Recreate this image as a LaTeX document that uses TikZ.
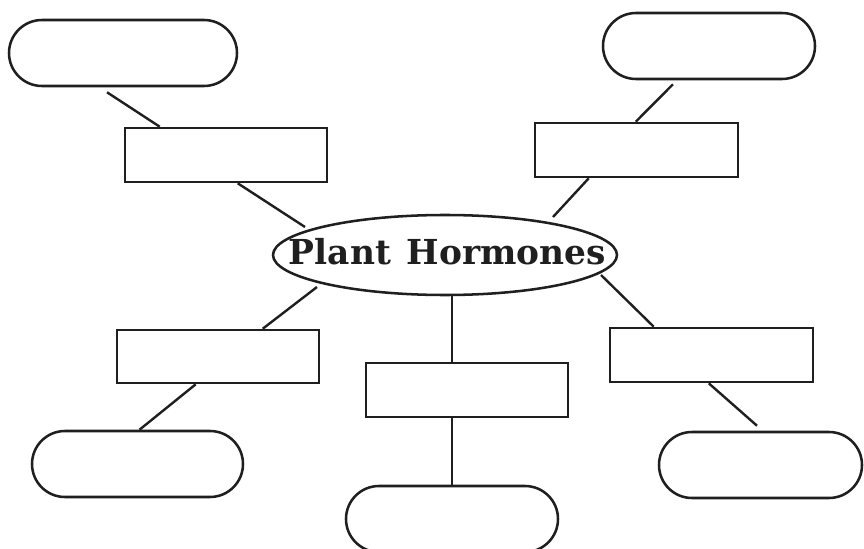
\documentclass[tikz,border=0pt]{standalone}
\usepackage{fontspec}
\setmainfont{DejaVu Serif}
\usetikzlibrary{shapes.geometric,calc}
\begin{document}
\begin{tikzpicture}[x=0.75pt,y=-0.75pt,
  line width=1.9pt,
  box/.style={draw=black!88,rectangle,minimum width=202*0.75pt,minimum height=54*0.75pt,inner sep=0pt},
  pill/.style={draw=black!88,rectangle,rounded corners=33*0.75pt,minimum width=212*0.75pt,minimum height=66*0.75pt,inner sep=0pt},
  hub/.style={draw=black!88,ellipse,minimum width=344*0.75pt,minimum height=80*0.75pt,inner sep=0pt},
  link/.style={draw=black!88,line width=1.8pt}]
\useasboundingbox (0,0) rectangle (864,549);
% nodes
\node[hub] (ctr) at (445,255) {};
\node[font=\bfseries\fontsize{25.8}{30}\selectfont,text=black!88,inner sep=0pt] (title) at (447.5,252) {Plant\hspace{3pt} Hormones};
\node[pill,minimum width=228*0.75pt] (tlo) at (123,53) {};
\node[box] (tlr) at (226,155) {};
\node[pill] (tro) at (709,46) {};
\node[box,minimum width=203*0.75pt] (trr) at (636.5,150) {};
\node[box,minimum height=53*0.75pt] (blr) at (218,356.5) {};
\node[pill,minimum width=211*0.75pt] (blo) at (137.5,464) {};
\node[box] (bcr) at (467,390) {};
\node[pill] (bco) at (452,519) {};
\node[box,minimum width=203*0.75pt] (rr) at (711.5,355) {};
\node[pill,minimum width=203*0.75pt] (ro) at (760.5,465) {};
% connectors
\draw[link] ($(tlo.south)+(-16,5)$) -- ($(tlr.north west)+(36,0)$);
\draw[link] ($(tlr.south west)+(114,0)$) -- ($(ctr.center)+(-140,-28)$);
\draw[link] ($(tro.south)+(-36,4)$) -- ($(trr.north west)+(102,0)$);
\draw[link] ($(trr.south west)+(55,0)$) -- ($(ctr.center)+(108,-38)$);
\draw[link] ($(ctr.center)+(-128,32)$) -- ($(blr.north west)+(147,0)$);
\draw[link] ($(blr.south west)+(80,0)$) -- ($(blo.north)+(2,0)$);
\draw[link] (ctr.south -| bco.north) -- (bcr.north -| bco.north);
\draw[link] (bcr.south -| bco.north) -- (bco.north);
\draw[link] ($(ctr.center)+(156,20)$) -- ($(rr.north west)+(45,0)$);
\draw[link] ($(rr.south west)+(100,0)$) -- ($(ro.north)+(-3.5,-5)$);
\end{tikzpicture}
\end{document}
